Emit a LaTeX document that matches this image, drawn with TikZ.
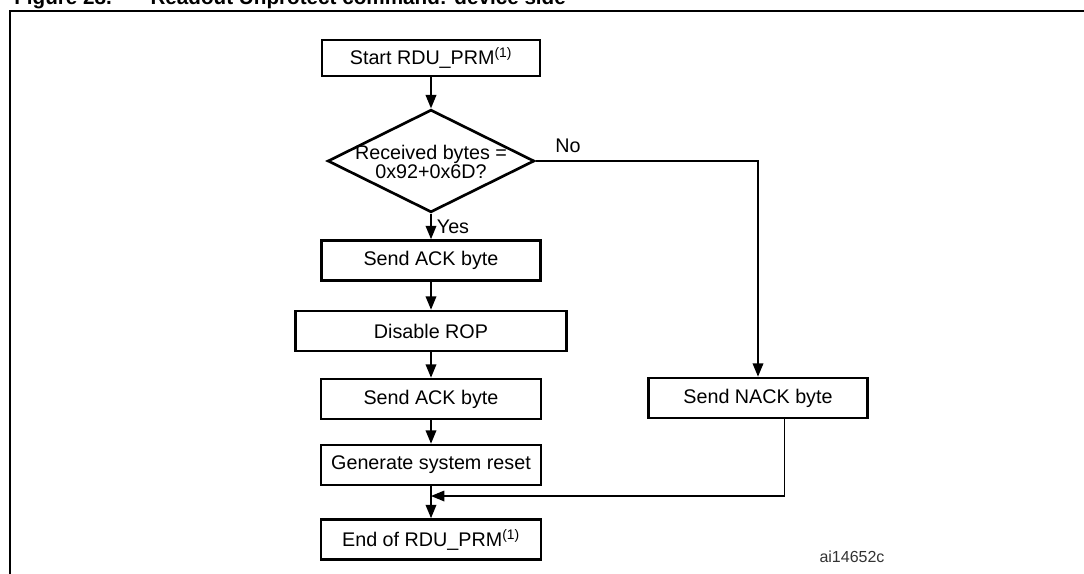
\documentclass[tikz,border=0pt]{standalone}
\usepackage{fontspec}
\setmainfont{Liberation Sans}
\usetikzlibrary{shapes.geometric,arrows.meta,calc}

\begin{document}
\begin{tikzpicture}[x=0.75pt,y=-0.75pt,
    box/.style={draw,line width=2pt,inner sep=0pt,minimum height=30pt,font=\fontsize{14.8}{17}\selectfont},
    decision/.style={draw,diamond,line width=2pt,inner sep=0pt,minimum width=155pt,minimum height=77pt},
    arr/.style={line width=1.1pt,-{Triangle[length=10pt,width=8pt]}},
    lbl/.style={font=\fontsize{14.8}{17}\selectfont,inner sep=0pt}]
  \path[use as bounding box,clip] (0,0) rectangle (1084,574);

  \node[anchor=base west,inner sep=0pt,font=\fontsize{15.5}{18}\bfseries\selectfont] (title) at (14,5)
    {Figure 28.\hspace{29pt}Readout Unprotect command: device side};
  \draw[line width=2.2pt] (10,590) -- (10,11) -- (1100,11);

  \node[box,minimum width=163.5pt,minimum height=27pt] (start) at (431,58) {Start RDU\_PRM\textsuperscript{(1)}};
  \node[decision] (dec) at (431,161) {};
  \node[lbl,align=center,font=\fontsize{14.8}{13.7}\selectfont] (dectext) at (431,162) {Received bytes =\\0x92+0x6D?};
  \node[box,minimum width=164pt] (ack1) at (431,260.5) {Send ACK byte};
  \node[box,minimum width=203pt] (rop) at (431,331) {Disable ROP};
  \node[box,minimum width=165pt] (ack2) at (431,399) {Send ACK byte};
  \node[box,minimum width=165pt] (reset) at (431,465) {Generate system reset};
  \node[box,minimum width=165pt] (endn) at (431,539.5) {End of RDU\_PRM\textsuperscript{(1)}};
  \node[box,minimum width=164pt] (nack) at (758,398) {Send NACK byte};

  \node[lbl] (no) at (568,146) {No};
  \node[lbl] (yes) at (453,227) {Yes};
  \node[inner sep=0pt,text=black!80,font=\fontsize{12}{14}\selectfont] (figid) at (852,557) {ai14652c};

  \draw[arr] (start) -- (dec);
  \draw[arr] (dec) -- (ack1);
  \draw[arr] (ack1) -- (rop);
  \draw[arr] (rop) -- (ack2);
  \draw[arr] (ack2) -- (reset);
  \draw[arr] (reset) -- (endn);
  \draw[arr] (dec.east) -| (nack.north);

  \coordinate (nackout) at ($(nack.south)+(26.5,0)$);
  \coordinate (merge) at (431,496);
  \draw[line width=0.9pt,-{Triangle[length=10pt,width=8pt]}] (nackout) |- (merge);
\end{tikzpicture}
\end{document}
